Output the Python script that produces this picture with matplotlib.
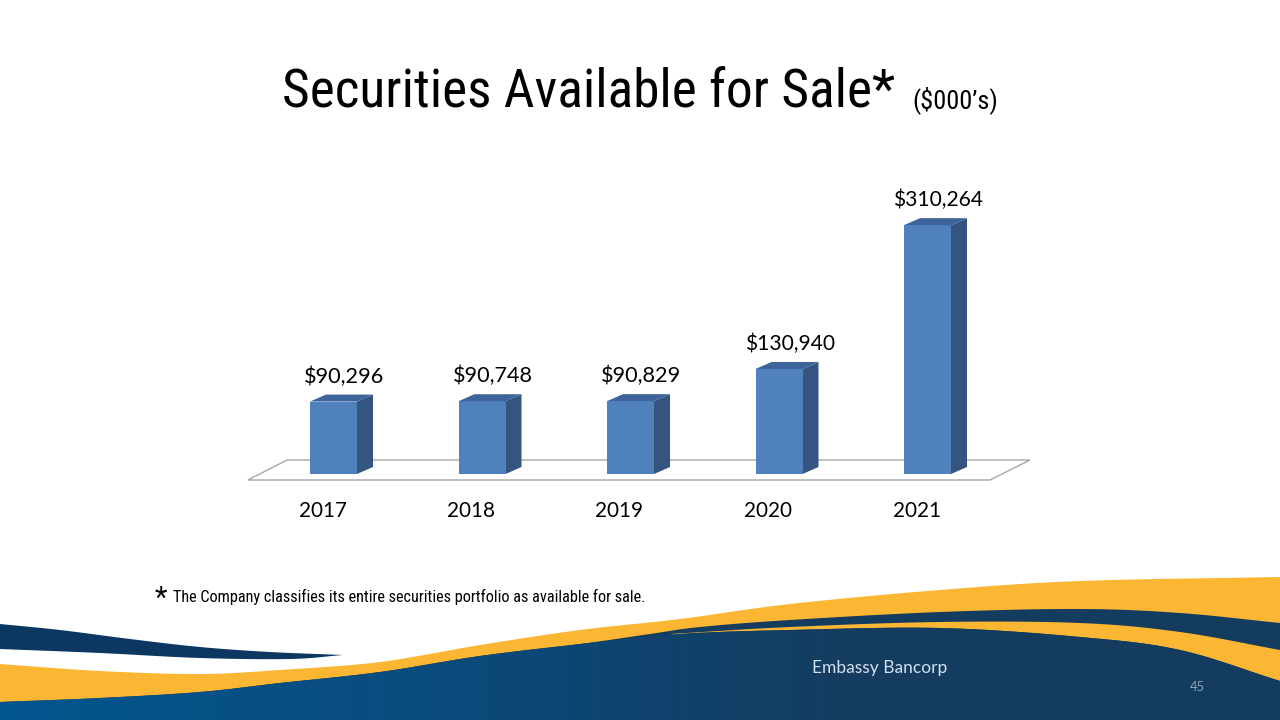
import numpy as np
import matplotlib
matplotlib.use("Agg")
import matplotlib.pyplot as plt
from matplotlib import font_manager
from matplotlib.patches import Polygon
from matplotlib.colors import LinearSegmentedColormap

# ---------------- data ----------------
years = ["2017", "2018", "2019", "2020", "2021"]
values = [90296, 90748, 90829, 130940, 310264]
value_labels = ["$90,296", "$90,748", "$90,829", "$130,940", "$310,264"]
title_main = "Securities Available for Sale*"
title_unit = "($000\u2019s)"
footnote = "The Company classifies its entire securities portfolio as available for sale."
company = "Embassy Bancorp"
page_no = "45"

# ---------------- fonts ----------------
avail = {f.name for f in font_manager.fontManager.ttflist}
def pick(cands):
    for c in cands:
        if c in avail:
            return c
    return "DejaVu Sans"
narrow = pick(["Liberation Sans Narrow", "Roboto Condensed", "Open Sans Condensed", "Lato"])
regular = pick(["Lato", "Open Sans", "Noto Sans", "DejaVu Sans"])

W, H = 1280, 720
fig = plt.figure(figsize=(12.8, 7.2), dpi=100)
fig.patch.set_facecolor("white")

# ---------------- background decoration (pixel coords) ----------------
bg = fig.add_axes([0, 0, 1, 1], zorder=0)
bg.set_xlim(0, W)
bg.set_ylim(H, 0)
bg.axis("off")

def smooth(pts, n=30):
    pts = np.asarray(pts, float)
    P = np.vstack([2 * pts[0] - pts[1], pts, 2 * pts[-1] - pts[-2]])
    out = []
    for i in range(1, len(P) - 2):
        p0, p1, p2, p3 = P[i - 1], P[i], P[i + 1], P[i + 2]
        for t in np.linspace(0, 1, n, endpoint=False):
            t2, t3 = t * t, t * t * t
            out.append(0.5 * ((2 * p1) + (-p0 + p2) * t + (2 * p0 - 5 * p1 + 4 * p2 - p3) * t2
                              + (-p0 + 3 * p1 - 3 * p2 + p3) * t3))
    out.append(pts[-1])
    return np.array(out)

yellow = "#FBB733"
navy = "#143C5F"

Y1 = smooth([(0, 664), (100, 671), (200, 674), (280, 670), (380, 662), (480, 645), (580, 630),
             (680, 619), (790, 604), (940, 590), (1080, 581), (1280, 577)])
Y2 = smooth([(0, 702), (100, 698), (200, 692), (280, 683), (380, 672), (480, 656), (580, 644),
             (650, 634), (700, 627), (790, 620), (940, 612), (1080, 609), (1180, 613), (1280, 623)])
Y3 = smooth([(670, 634), (790, 627), (940, 622), (1080, 623), (1180, 632), (1280, 650)])
Y4 = smooth([(0, 702), (100, 698), (200, 692), (280, 683), (380, 672), (480, 656), (580, 644),
             (680, 634), (790, 630), (940, 628), (1080, 637), (1180, 650), (1280, 681)])

def under(curve):
    return np.vstack([curve, [[W + 2, H + 2], [-2, H + 2]]])

bg.add_patch(Polygon(under(Y1), closed=True, fc=yellow, ec="none", zorder=1))
bg.add_patch(Polygon(under(Y2), closed=True, fc=navy, ec="none", zorder=2))
Y4r = Y4[Y4[:, 0] >= 670]
lens = np.vstack([Y3, Y4r[::-1]])
bg.add_patch(Polygon(lens, closed=True, fc=yellow, ec="none", zorder=3))

body = Polygon(under(Y4), closed=True, fc="none", ec="none", zorder=4)
bg.add_patch(body)
cmap = LinearSegmentedColormap.from_list("b", ["#03578F", "#0A4B7D", navy, navy])
grad = np.linspace(0, 1, 256).reshape(1, -1)
im = bg.imshow(grad, extent=[0, W, H, 600], cmap=cmap, aspect="auto", zorder=4)
im.set_clip_path(body)
bg.set_xlim(0, W)
bg.set_ylim(H, 0)

sw_top = smooth([(0, 624), (60, 630), (130, 639), (200, 647), (270, 652), (343, 655)])
sw_bot = smooth([(343, 655), (290, 659), (200, 658), (100, 653), (0, 649)])
bg.add_patch(Polygon(np.vstack([[-2, 624], sw_top, sw_bot, [-2, 649]]), closed=True,
                     fc="#0C3761", ec="none", zorder=5))

# ---------------- chart axes ----------------
PX = 0.000802          # pixels per unit value (from reference scale)
px_left, px_right = 185.0, 1076.0
px_bottom, px_top = 500.0, 150.0
base_px = 474.0
ax = fig.add_axes([px_left / W, (H - px_bottom) / H, (px_right - px_left) / W,
                   (px_bottom - px_top) / H], zorder=2)
ax.patch.set_visible(False)
ax.axis("off")
ax.set_xlim(-1, 5)
ymin = -(px_bottom - base_px) / PX
ax.set_ylim(ymin, ymin + (px_bottom - px_top) / PX)

xu = (px_right - px_left) / 6.0    # pixels per category
bw = 47 / xu
dx = 16 / xu
dy = 7 / PX

x = np.arange(len(years))
# floor
f_front = -6 / PX
f_back = 14 / PX
floor = [(-0.576, f_front), (-0.313, f_back), (4.69, f_back), (4.421, f_front)]
ax.add_patch(Polygon(floor, closed=True, fc="white", ec="#A6A6A6", lw=1.0, zorder=1))

front_c = "#4F81BD"
side_c = "#34557F"
top_c = "#3D649A"
bars = ax.bar(x, values, width=bw, color=front_c, zorder=3, linewidth=0)
for xi, v in zip(x, values):
    l, r = xi - bw / 2, xi + bw / 2
    ax.add_patch(Polygon([(r, 0), (r + dx, dy), (r + dx, v + dy), (r, v)], closed=True,
                         fc=side_c, ec="none", zorder=2))
    ax.add_patch(Polygon([(l, v), (l + dx, v + dy), (r + dx, v + dy), (r, v)], closed=True,
                         fc=top_c, ec="none", zorder=3))

val_texts = []
for xi, v, lab in zip(x, values, value_labels):
    t = ax.annotate(lab, (xi + dx / 2 + 3 / xu, v), xytext=(0, 18), textcoords="offset points",
                    ha="center", va="center", fontsize=15, family=regular, color="black")
    val_texts.append(t)

yr_texts = []
for xi, yl in zip(x, years):
    t = ax.text(xi - 11 / xu, -37 / PX, yl, ha="center", va="center", fontsize=15,
                family=regular, color="black", clip_on=False)
    yr_texts.append(t)

# ---------------- texts ----------------
t_title = bg.text(282, 108, title_main, ha="left", va="baseline", fontsize=36,
                  family=narrow, color="black", zorder=10)
t_unit = bg.text(912, 108, title_unit, ha="left", va="baseline", fontsize=15,
                 family=narrow, color="black", zorder=10)
t_star = bg.text(155, 607, "*", ha="left", va="baseline", fontsize=21, family=narrow,
                 color="black", zorder=10)
t_foot = bg.text(173, 602, footnote, ha="left", va="baseline", fontsize=9, family=narrow,
                 color="black", zorder=10)
t_comp = bg.text(812, 673, company, ha="left", va="baseline", fontsize=11, family=regular,
                 color="#D3E0EE", zorder=10)
t_page = bg.text(1190, 691, page_no, ha="left", va="baseline", fontsize=9, family=regular,
                 color="#8DA2B8", zorder=10)

fig.canvas.draw()
renderer = fig.canvas.get_renderer()
def fit(t, target):
    for _ in range(3):
        w = t.get_window_extent(renderer).width
        t.set_fontsize(t.get_fontsize() * target / w)

fit(t_title, 611)
fit(t_unit, 86)
fit(t_foot, 472)
fit(t_comp, 135)
fit(t_page, 15)
for t in val_texts:
    fit(t, 80 if len(t.get_text()) == 7 else 90)
for t in yr_texts:
    fit(t, 48)

fig.savefig("out.png", dpi=100, facecolor="white")
